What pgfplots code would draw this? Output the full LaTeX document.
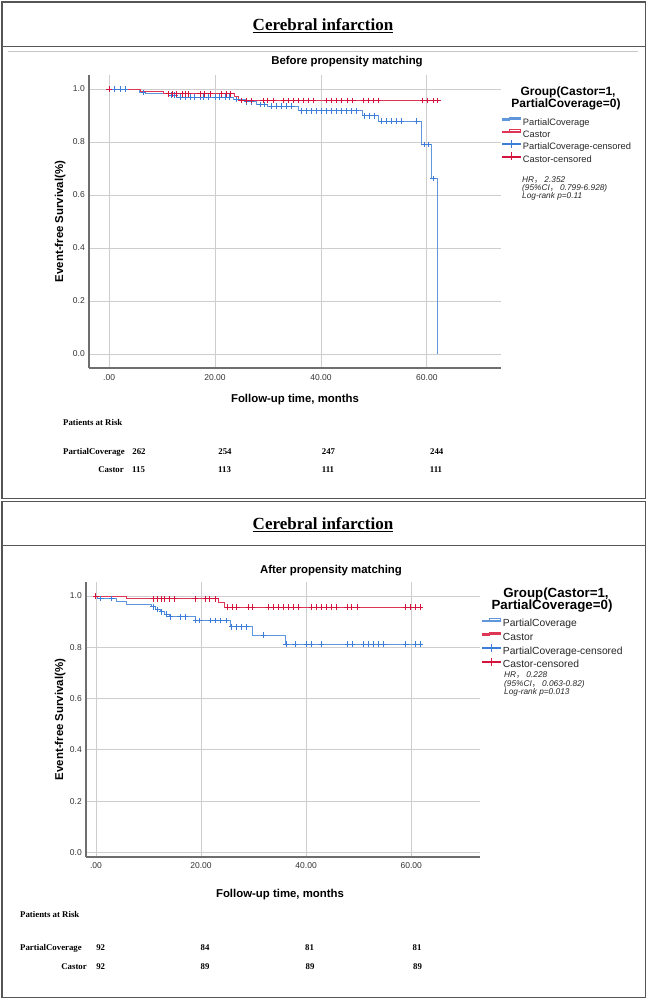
\documentclass[border=0pt]{standalone}
\usepackage{fontspec}
\setmainfont{Liberation Sans}
\newfontfamily\timesfont{Liberation Serif}
\newfontfamily\cjk{Noto Sans CJK SC}
\usepackage{pgfplots}
\pgfplotsset{compat=1.18}
\definecolor{pcline}{RGB}{95,150,220}
\definecolor{pcmark}{RGB}{60,125,215}
\definecolor{caline}{RGB}{222,55,85}
\definecolor{camark}{RGB}{212,20,60}
\definecolor{framec}{RGB}{85,85,85}
\definecolor{gridc}{RGB}{205,205,205}
\definecolor{axisc}{RGB}{110,110,110}
\newcommand{\fs}[1]{\fontsize{#1}{#1}\selectfont}
\newcommand{\smallbb}{\pgfresetboundingbox\path[use as bounding box] (0pt,2.8pt) rectangle (18pt,3.8pt);}
\pgfplotsset{kmstyle/.style={
  scale only axis,
  axis lines*=left, axis line style={draw=axisc, line width=1.1pt, -},
  grid=major, major grid style={draw=gridc, line width=0.9pt},
  major tick length=0pt,
  xtick={0,20,40,60}, xticklabels={.00,20.00,40.00,60.00},
  ytick={0,0.2,0.4,0.6,0.8,1.0}, yticklabels={0.0,0.2,0.4,0.6,0.8,1.0},
  tick label style={font=\fs{8.5}, text=black!80, inner sep=0pt},
  yticklabel style={anchor=east, xshift=-4pt},
  label style={font=\bfseries\fs{11.4}},
  title style={font=\bfseries\fs{11.4}},
  legend cell align=left,
},
pcstep/.style={const plot, draw=pcline, line width=1pt,
  legend image code/.code={\draw[pcline, line width=1pt] (0pt,2pt) -- (7pt,2pt) -- (7pt,5pt) -- (18pt,5pt) -- (18pt,3pt);\smallbb}},
castep/.style={const plot, draw=caline, line width=1pt,
  legend image code/.code={\draw[caline, line width=1pt] (0pt,2pt) -- (7pt,2pt) -- (7pt,5pt) -- (18pt,5pt) -- (18pt,3pt);\smallbb}},
pccens/.style={only marks, mark=+, mark size=2.8pt, color=pcmark, mark options={line width=1pt},
  legend image code/.code={\draw[pcmark, line width=1pt] (0pt,3.3pt) -- (18pt,3.3pt) (9pt,-0.7pt) -- (9pt,7.3pt);\smallbb}},
cacens/.style={only marks, mark=+, mark size=2.8pt, color=camark, mark options={line width=1pt},
  legend image code/.code={\draw[camark, line width=1pt] (0pt,3.3pt) -- (18pt,3.3pt) (9pt,-0.7pt) -- (9pt,7.3pt);\smallbb}},
}
\begin{document}
\begin{tikzpicture}
\path (0pt,0pt) rectangle (648pt,-1000pt);
% frames
\draw[framec, line width=1.5pt] (2pt,-2pt) rectangle (645.5pt,-498.5pt);
\draw[framec, line width=1.5pt] (2pt,-46.7pt) -- (645.5pt,-46.7pt);
\draw[gray!45, line width=1pt] (8pt,-51.7pt) -- (638pt,-51.7pt);
\draw[framec, line width=1.5pt] (2pt,-501.5pt) rectangle (645.5pt,-997.5pt);
\draw[framec, line width=1.5pt] (2pt,-545.7pt) -- (645.5pt,-545.7pt);
\node[anchor=base, font=\timesfont\bfseries\fs{17}, inner sep=0pt] at (323pt,-30.7pt) {\underline{Cerebral infarction}};
\node[anchor=base, font=\timesfont\bfseries\fs{17}, inner sep=0pt] at (323pt,-529.7pt) {\underline{Cerebral infarction}};

% ---------------- TOP ----------------
\begin{axis}[kmstyle, at={(89pt,-368pt)}, anchor=south west, width=412pt, height=293pt,
  xmin=-3.8, xmax=74, ymin=-0.053, ymax=1.053,
  xticklabel style={anchor=north, yshift=-6pt},
  title={Before propensity matching},
  title style={at={(axis description cs:0.6262,1.0137)}, anchor=base},
  xlabel={Follow-up time, months},
  xlabel style={at={(axis description cs:0.5,-0.1184)}, anchor=base},
  ylabel={Event-free Survival(\%)},
  ylabel style={at={(axis description cs:-0.0631,0.5)}, anchor=base},
  legend style={at={(axis description cs:1.0024,0.8532)}, anchor=north west, draw=none, fill=none,
    inner sep=0pt, outer sep=0pt, font=\fs{9.3}, text=black!85, row sep=3.4pt,
    nodes={inner sep=0pt, text height=7pt, text depth=2pt},
    /tikz/every odd column/.style={column sep=2pt}},
]
\addplot[pcstep] coordinates {(0,1.0) (5.8,0.987) (6.8,0.982) (11.2,0.977) (12.8,0.969) (23.5,0.961) (25.7,0.952) (27.9,0.942) (29.9,0.935) (35.8,0.918) (47.8,0.899) (50.9,0.879) (59.0,0.791) (60.9,0.663) (62.1,0.0)};
\addplot[castep] coordinates {(0,1.0) (6.0,0.991) (10.2,0.982) (23.7,0.970) (24.4,0.957) (62.4,0.957)};
\addplot[pccens] coordinates {(1.1,1.0) (2.1,1.0) (3.0,1.0) (6.5,0.987) (11.8,0.977) (12.4,0.977) (13.4,0.969) (14.5,0.969) (15.4,0.969) (16.2,0.969) (17.2,0.969) (17.9,0.969) (18.7,0.969) (20.0,0.969) (20.9,0.969) (21.9,0.969) (22.8,0.969) (24.1,0.961) (26.0,0.952) (26.9,0.952) (28.5,0.942) (29.4,0.942) (30.7,0.935) (31.6,0.935) (32.6,0.935) (33.5,0.935) (34.5,0.935) (36.4,0.918) (37.3,0.918) (38.2,0.918) (39.2,0.918) (40.1,0.918) (41.1,0.918) (42.0,0.918) (43.0,0.918) (43.9,0.918) (44.8,0.918) (45.8,0.918) (46.7,0.918) (48.3,0.899) (49.2,0.899) (50.2,0.899) (51.4,0.879) (52.4,0.879) (53.3,0.879) (54.3,0.879) (55.2,0.879) (58.1,0.879) (59.5,0.791) (60.3,0.791) (61.2,0.663)};
\addplot[cacens] coordinates {(0,1.0) (11.2,0.982) (11.9,0.982) (12.8,0.982) (13.8,0.982) (14.4,0.982) (14.9,0.982) (17.2,0.982) (18.1,0.982) (19.1,0.982) (21.3,0.982) (22.1,0.982) (23.0,0.982) (25.0,0.957) (26.0,0.957) (26.9,0.957) (29.1,0.957) (30.0,0.957) (31.0,0.957) (32.9,0.957) (33.8,0.957) (34.8,0.957) (35.7,0.957) (36.7,0.957) (37.6,0.957) (38.6,0.957) (41.1,0.957) (42.0,0.957) (43.0,0.957) (43.9,0.957) (45.0,0.957) (46.0,0.957) (48.1,0.957) (48.9,0.957) (49.9,0.957) (50.9,0.957) (59.2,0.957) (60.2,0.957) (61.2,0.957) (62.1,0.957)};
\legend{PartialCoverage, Castor, PartialCoverage-censored, Castor-censored}
\end{axis}
\node[anchor=base, font=\bfseries\fs{12}, inner sep=0pt] at (568pt,-96pt) {Group(Castor=1,};
\node[anchor=base, font=\bfseries\fs{12}, inner sep=0pt] at (566pt,-107.7pt) {PartialCoverage=0)};
\begin{scope}[font=\itshape\fs{8.3}, text=black!85, inner sep=0pt]
\node[anchor=base west] at (522pt,-182.7pt) {HR{\cjk\upshape ，}\hspace{2pt}2.352};
\node[anchor=base west] at (522pt,-191pt) {(95\%CI{\cjk\upshape ，}\hspace{2pt}0.799-6.928)};
\node[anchor=base west] at (522pt,-199pt) {Log-rank p=0.11};
\end{scope}
\begin{scope}[font=\timesfont\bfseries\fs{8.8}, inner sep=0pt]
\node[anchor=base west] at (63pt,-425.5pt) {Patients at Risk};
\node[anchor=base west] at (63pt,-454pt) {PartialCoverage};
\node[anchor=base east] at (124pt,-472pt) {Castor};
\node[anchor=base] at (139pt,-454pt) {262};
\node[anchor=base] at (225pt,-454pt) {254};
\node[anchor=base] at (328.5pt,-454pt) {247};
\node[anchor=base] at (436.7pt,-454pt) {244};
\node[anchor=base] at (138.6pt,-472pt) {115};
\node[anchor=base] at (224.6pt,-472pt) {113};
\node[anchor=base] at (328pt,-472pt) {111};
\node[anchor=base] at (436pt,-472pt) {111};
\end{scope}

% ---------------- BOTTOM ----------------
\begin{axis}[kmstyle, at={(86pt,-857pt)}, anchor=south west, width=394pt, height=275pt,
  xmin=-1.9, xmax=73.1, ymin=-0.0175, ymax=1.0546,
  xticklabel style={anchor=north, yshift=-5pt},
  title={After propensity matching},
  title style={at={(axis description cs:0.6218,1.0109)}, anchor=base},
  xlabel={Follow-up time, months},
  xlabel style={at={(axis description cs:0.4924,-0.1465)}, anchor=base},
  ylabel={Event-free Survival(\%)},
  ylabel style={at={(axis description cs:-0.058,0.5)}, anchor=base},
  legend style={at={(axis description cs:1.005,0.8655)}, anchor=north west, draw=none, fill=none,
    inner sep=0pt, outer sep=0pt, font=\fs{10.3}, text=black!85, row sep=3.7pt,
    nodes={inner sep=0pt, text height=7.7pt, text depth=2.3pt},
    /tikz/every odd column/.style={column sep=2pt}},
]
\addplot[pcstep] coordinates {(0,1.0) (0.3,0.991) (3.9,0.979) (5.8,0.968) (10.6,0.958) (11.3,0.948) (12.3,0.938) (13.1,0.929) (13.9,0.919) (18.9,0.905) (25.6,0.880) (29.8,0.847) (36.0,0.812) (62.1,0.812)};
\addplot[castep] coordinates {(0,1.0) (5.8,0.989) (23.4,0.974) (24.4,0.956) (62.2,0.956)};
\addplot[pccens] coordinates {(0.9,0.991) (3.0,0.991) (10.9,0.958) (11.7,0.948) (12.5,0.938) (13.4,0.929) (14.1,0.919) (16.0,0.919) (17.0,0.919) (19.0,0.905) (19.8,0.905) (21.8,0.905) (22.8,0.905) (23.7,0.905) (24.8,0.905) (25.8,0.880) (26.8,0.880) (27.7,0.880) (28.7,0.880) (31.9,0.847) (36.2,0.812) (37.9,0.812) (40.1,0.812) (41.0,0.812) (42.9,0.812) (47.9,0.812) (48.8,0.812) (50.9,0.812) (51.9,0.812) (52.8,0.812) (53.8,0.812) (54.8,0.812) (59.0,0.812) (60.9,0.812) (61.8,0.812)};
\addplot[cacens] coordinates {(0,1.0) (10.9,0.989) (11.8,0.989) (12.5,0.989) (13.1,0.989) (14.0,0.989) (14.9,0.989) (18.9,0.989) (20.9,0.989) (21.7,0.989) (22.8,0.989) (25.1,0.956) (26.0,0.956) (26.8,0.956) (29.0,0.956) (29.8,0.956) (32.8,0.956) (33.8,0.956) (34.7,0.956) (35.7,0.956) (36.6,0.956) (37.6,0.956) (38.5,0.956) (41.1,0.956) (42.0,0.956) (43.0,0.956) (43.9,0.956) (44.9,0.956) (45.8,0.956) (47.8,0.956) (48.7,0.956) (49.7,0.956) (58.9,0.956) (59.8,0.956) (60.8,0.956) (61.8,0.956)};
\legend{PartialCoverage, Castor, PartialCoverage-censored, Castor-censored}
\end{axis}
\node[anchor=base, font=\bfseries\fs{13.3}, inner sep=0pt] at (556pt,-597.3pt) {Group(Castor=1,};
\node[anchor=base, font=\bfseries\fs{13.3}, inner sep=0pt] at (552pt,-609.3pt) {PartialCoverage=0)};
\begin{scope}[font=\itshape\fs{8.3}, text=black!85, inner sep=0pt]
\node[anchor=base west] at (504pt,-677.3pt) {HR{\cjk\upshape ，}\hspace{2pt}0.228};
\node[anchor=base west] at (504pt,-686pt) {(95\%CI{\cjk\upshape ，}\hspace{2pt}0.063-0.82)};
\node[anchor=base west] at (504pt,-694pt) {Log-rank p=0.013};
\end{scope}
\begin{scope}[font=\timesfont\bfseries\fs{8.8}, inner sep=0pt]
\node[anchor=base west] at (20pt,-917.5pt) {Patients at Risk};
\node[anchor=base west] at (20pt,-950pt) {PartialCoverage};
\node[anchor=base east] at (87pt,-969pt) {Castor};
\node[anchor=base] at (100.7pt,-950pt) {92};
\node[anchor=base] at (205pt,-950pt) {84};
\node[anchor=base] at (309.5pt,-950pt) {81};
\node[anchor=base] at (417pt,-950pt) {81};
\node[anchor=base] at (100.7pt,-969pt) {92};
\node[anchor=base] at (205pt,-969pt) {89};
\node[anchor=base] at (310pt,-969pt) {89};
\node[anchor=base] at (417.5pt,-969pt) {89};
\end{scope}
\end{tikzpicture}
\end{document}
